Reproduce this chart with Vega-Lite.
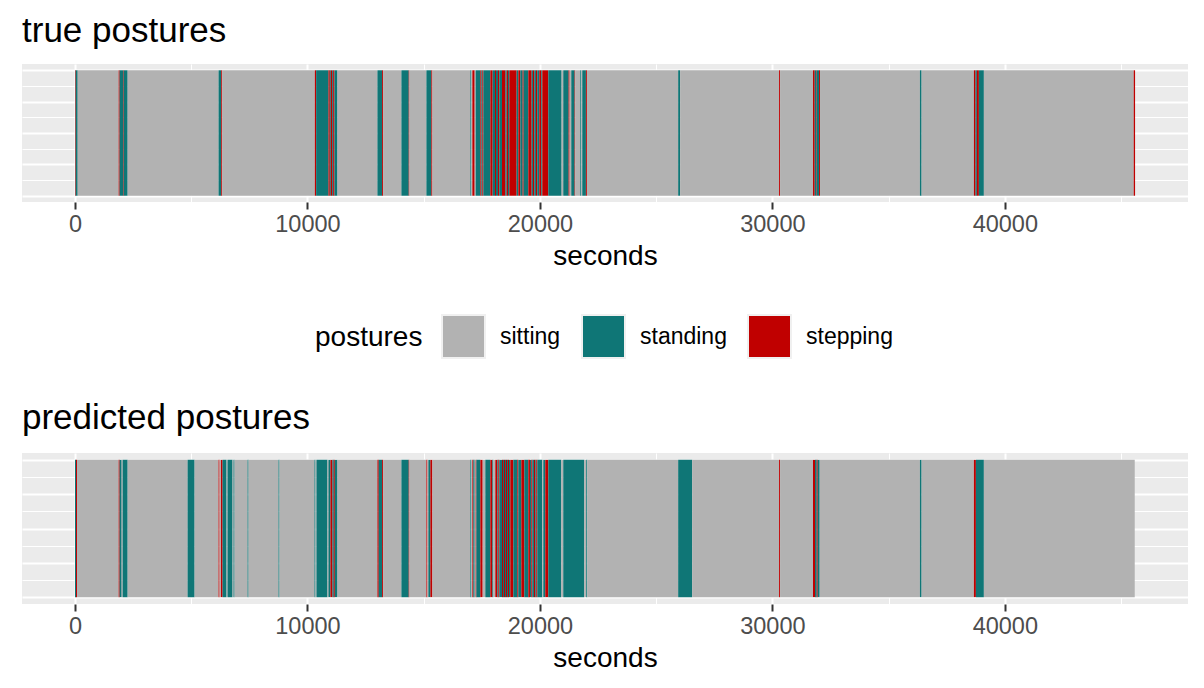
{
  "$schema": "https://vega.github.io/schema/vega-lite/v6.json",
  "padding": {"left": 22, "top": 14, "right": 16, "bottom": 10},
  "background": "white",
  "config": {
    "font": "Liberation Sans",
    "view": {"fill": "#EBEBEB", "stroke": null},
    "concat": {"spacing": 130},
    "title": {"anchor": "start", "fontSize": 35, "fontWeight": "normal", "color": "black", "baseline": "alphabetic"},
    "legend": {
      "padding": 0,
      "titleFontSize": 28, "titleFontWeight": "normal", "titleColor": "black", "titleOrient": "left", "titlePadding": 18,
      "labelFontSize": 23, "labelColor": "black", "labelOffset": 14, "columnPadding": 17,
      "symbolType": "M-1,-1H1V1H-1Z", "symbolSize": 1849, "symbolStrokeColor": "#F0F0F0", "symbolStrokeWidth": 2
    }
  },
  "datasets": {
    "truth": [
      {"start":0,"end":30,"posture":"stepping"},{"start":30,"end":116,"posture":"standing"},{"start":116,"end":1878,"posture":"sitting"},{"start":1878,"end":1921,"posture":"stepping"},{"start":1921,"end":2064,"posture":"standing"},{"start":2064,"end":2093,"posture":"stepping"},{"start":2093,"end":2265,"posture":"standing"},{"start":2265,"end":6176,"posture":"sitting"},{"start":6176,"end":6291,"posture":"standing"},{"start":6291,"end":6334,"posture":"stepping"},{"start":6334,"end":10317,"posture":"sitting"},{"start":10317,"end":10374,"posture":"stepping"},{"start":10374,"end":10904,"posture":"standing"},{"start":10904,"end":10961,"posture":"stepping"},{"start":10961,"end":11004,"posture":"standing"},{"start":11004,"end":11062,"posture":"stepping"},{"start":11062,"end":11105,"posture":"standing"},{"start":11105,"end":11162,"posture":"stepping"},{"start":11162,"end":11291,"posture":"standing"},{"start":11291,"end":13010,"posture":"sitting"},{"start":13010,"end":13211,"posture":"standing"},{"start":13211,"end":13254,"posture":"stepping"},{"start":13254,"end":14042,"posture":"sitting"},{"start":14042,"end":14357,"posture":"standing"},{"start":14357,"end":14386,"posture":"stepping"},{"start":14386,"end":15117,"posture":"sitting"},{"start":15117,"end":15330,"posture":"standing"},{"start":15330,"end":15374,"posture":"stepping"},{"start":15374,"end":17008,"posture":"sitting"},{"start":17008,"end":17051,"posture":"standing"},{"start":17051,"end":17094,"posture":"sitting"},{"start":17094,"end":17194,"posture":"stepping"},{"start":17194,"end":17237,"posture":"sitting"},{"start":17237,"end":17437,"posture":"standing"},{"start":17437,"end":17480,"posture":"stepping"},{"start":17480,"end":17523,"posture":"standing"},{"start":17523,"end":17566,"posture":"stepping"},{"start":17566,"end":17867,"posture":"standing"},{"start":17867,"end":17968,"posture":"stepping"},{"start":17968,"end":18068,"posture":"standing"},{"start":18068,"end":18111,"posture":"stepping"},{"start":18111,"end":18197,"posture":"standing"},{"start":18197,"end":18254,"posture":"stepping"},{"start":18254,"end":18369,"posture":"standing"},{"start":18369,"end":18512,"posture":"stepping"},{"start":18512,"end":18569,"posture":"standing"},{"start":18569,"end":18627,"posture":"stepping"},{"start":18627,"end":18684,"posture":"standing"},{"start":18684,"end":18999,"posture":"stepping"},{"start":18999,"end":19071,"posture":"standing"},{"start":19071,"end":19157,"posture":"stepping"},{"start":19157,"end":19257,"posture":"standing"},{"start":19257,"end":19300,"posture":"stepping"},{"start":19300,"end":19501,"posture":"standing"},{"start":19501,"end":19644,"posture":"stepping"},{"start":19644,"end":19701,"posture":"standing"},{"start":19701,"end":19758,"posture":"stepping"},{"start":19758,"end":19830,"posture":"standing"},{"start":19830,"end":19887,"posture":"stepping"},{"start":19887,"end":19973,"posture":"standing"},{"start":19973,"end":20059,"posture":"stepping"},{"start":20059,"end":20102,"posture":"standing"},{"start":20102,"end":20360,"posture":"stepping"},{"start":20360,"end":20933,"posture":"standing"},{"start":20933,"end":21005,"posture":"sitting"},{"start":21005,"end":21234,"posture":"standing"},{"start":21234,"end":21277,"posture":"stepping"},{"start":21277,"end":21349,"posture":"sitting"},{"start":21349,"end":21492,"posture":"standing"},{"start":21492,"end":21521,"posture":"stepping"},{"start":21521,"end":21736,"posture":"sitting"},{"start":21736,"end":21779,"posture":"standing"},{"start":21779,"end":21822,"posture":"sitting"},{"start":21822,"end":21979,"posture":"standing"},{"start":21979,"end":22022,"posture":"stepping"},{"start":22022,"end":25948,"posture":"sitting"},{"start":25948,"end":26034,"posture":"standing"},{"start":26034,"end":30289,"posture":"sitting"},{"start":30289,"end":30332,"posture":"stepping"},{"start":30332,"end":31749,"posture":"sitting"},{"start":31749,"end":31821,"posture":"stepping"},{"start":31821,"end":31878,"posture":"standing"},{"start":31878,"end":31907,"posture":"stepping"},{"start":31907,"end":32008,"posture":"standing"},{"start":32008,"end":32050,"posture":"stepping"},{"start":32050,"end":36348,"posture":"sitting"},{"start":36348,"end":36420,"posture":"standing"},{"start":36420,"end":38669,"posture":"sitting"},{"start":38669,"end":38741,"posture":"stepping"},{"start":38741,"end":38798,"posture":"standing"},{"start":38798,"end":38884,"posture":"stepping"},{"start":38884,"end":39099,"posture":"standing"},{"start":39099,"end":45546,"posture":"sitting"},{"start":45546,"end":45603,"posture":"stepping"}
    ],
    "pred": [
      {"start":0,"end":44,"posture":"standing"},{"start":44,"end":87,"posture":"stepping"},{"start":87,"end":1878,"posture":"sitting"},{"start":1878,"end":1921,"posture":"stepping"},{"start":1921,"end":2007,"posture":"standing"},{"start":2007,"end":2050,"posture":"sitting"},{"start":2050,"end":2265,"posture":"standing"},{"start":2265,"end":4844,"posture":"sitting"},{"start":4844,"end":5145,"posture":"standing"},{"start":5145,"end":6176,"posture":"sitting"},{"start":6176,"end":6219,"posture":"stepping"},{"start":6219,"end":6277,"posture":"sitting"},{"start":6277,"end":6348,"posture":"stepping"},{"start":6348,"end":6520,"posture":"standing"},{"start":6520,"end":6563,"posture":"sitting"},{"start":6563,"end":6778,"posture":"standing"},{"start":6778,"end":6821,"posture":"sitting"},{"start":6821,"end":6864,"posture":"standing"},{"start":6864,"end":7423,"posture":"sitting"},{"start":7423,"end":7466,"posture":"standing"},{"start":7466,"end":8755,"posture":"sitting"},{"start":8755,"end":8798,"posture":"standing"},{"start":8798,"end":10302,"posture":"sitting"},{"start":10302,"end":10345,"posture":"standing"},{"start":10345,"end":10388,"posture":"sitting"},{"start":10388,"end":10861,"posture":"standing"},{"start":10861,"end":10904,"posture":"sitting"},{"start":10904,"end":10990,"posture":"standing"},{"start":10990,"end":11076,"posture":"stepping"},{"start":11076,"end":11134,"posture":"standing"},{"start":11134,"end":11177,"posture":"stepping"},{"start":11177,"end":11291,"posture":"standing"},{"start":11291,"end":13010,"posture":"sitting"},{"start":13010,"end":13067,"posture":"stepping"},{"start":13067,"end":13211,"posture":"standing"},{"start":13211,"end":13254,"posture":"stepping"},{"start":13254,"end":14042,"posture":"sitting"},{"start":14042,"end":14357,"posture":"standing"},{"start":14357,"end":14386,"posture":"stepping"},{"start":14386,"end":15117,"posture":"sitting"},{"start":15117,"end":15160,"posture":"stepping"},{"start":15160,"end":15202,"posture":"sitting"},{"start":15202,"end":15288,"posture":"standing"},{"start":15288,"end":15374,"posture":"stepping"},{"start":15374,"end":17008,"posture":"sitting"},{"start":17008,"end":17051,"posture":"standing"},{"start":17051,"end":17094,"posture":"sitting"},{"start":17094,"end":17137,"posture":"stepping"},{"start":17137,"end":17194,"posture":"standing"},{"start":17194,"end":17237,"posture":"sitting"},{"start":17237,"end":17266,"posture":"stepping"},{"start":17266,"end":17437,"posture":"standing"},{"start":17437,"end":17538,"posture":"stepping"},{"start":17538,"end":17652,"posture":"sitting"},{"start":17652,"end":17867,"posture":"standing"},{"start":17867,"end":17953,"posture":"stepping"},{"start":17953,"end":17996,"posture":"standing"},{"start":17996,"end":18082,"posture":"sitting"},{"start":18082,"end":18168,"posture":"stepping"},{"start":18168,"end":18211,"posture":"standing"},{"start":18211,"end":18254,"posture":"stepping"},{"start":18254,"end":18369,"posture":"standing"},{"start":18369,"end":18412,"posture":"stepping"},{"start":18412,"end":18455,"posture":"standing"},{"start":18455,"end":18498,"posture":"stepping"},{"start":18498,"end":18541,"posture":"standing"},{"start":18541,"end":18584,"posture":"stepping"},{"start":18584,"end":18627,"posture":"standing"},{"start":18627,"end":18670,"posture":"stepping"},{"start":18670,"end":18727,"posture":"standing"},{"start":18727,"end":18856,"posture":"stepping"},{"start":18856,"end":19028,"posture":"standing"},{"start":19028,"end":19071,"posture":"stepping"},{"start":19071,"end":19200,"posture":"standing"},{"start":19200,"end":19329,"posture":"stepping"},{"start":19329,"end":19501,"posture":"standing"},{"start":19501,"end":19572,"posture":"stepping"},{"start":19572,"end":19630,"posture":"standing"},{"start":19630,"end":19673,"posture":"stepping"},{"start":19673,"end":19744,"posture":"standing"},{"start":19744,"end":19801,"posture":"stepping"},{"start":19801,"end":19844,"posture":"standing"},{"start":19844,"end":19887,"posture":"stepping"},{"start":19887,"end":20102,"posture":"standing"},{"start":20102,"end":20145,"posture":"sitting"},{"start":20145,"end":20231,"posture":"standing"},{"start":20231,"end":20360,"posture":"stepping"},{"start":20360,"end":20919,"posture":"standing"},{"start":20919,"end":21005,"posture":"sitting"},{"start":21005,"end":21907,"posture":"standing"},{"start":21907,"end":21993,"posture":"sitting"},{"start":21993,"end":22036,"posture":"standing"},{"start":22036,"end":25948,"posture":"sitting"},{"start":25948,"end":26550,"posture":"standing"},{"start":26550,"end":30289,"posture":"sitting"},{"start":30289,"end":30332,"posture":"stepping"},{"start":30332,"end":31749,"posture":"sitting"},{"start":31749,"end":31835,"posture":"stepping"},{"start":31835,"end":31907,"posture":"standing"},{"start":31907,"end":31950,"posture":"stepping"},{"start":31950,"end":32036,"posture":"standing"},{"start":32036,"end":36348,"posture":"sitting"},{"start":36348,"end":36420,"posture":"standing"},{"start":36420,"end":38669,"posture":"sitting"},{"start":38669,"end":38755,"posture":"stepping"},{"start":38755,"end":39099,"posture":"standing"},{"start":39099,"end":45589,"posture":"sitting"}
    ]
  },
  "resolve": {"scale": {"color": "shared"}, "legend": {"color": "shared"}},
  "vconcat": [
    {
      "title": {"text": "true postures", "offset": 15},
      "width": 1166,
      "height": 138,
      "data": {"name": "truth"},
      "mark": {"type": "rect"},
      "encoding": {
        "x": {"field": "start", "type": "quantitative",
          "scale": {"domain": [-2280, 47880], "nice": false, "zero": false},
          "axis": {"title": "seconds", "values": [0,5000,10000,15000,20000,25000,30000,35000,40000,45000],
            "labelExpr": "datum.value % 10000 === 0 ? '' + datum.value : ''",
            "labelOverlap": false, "labelFlush": false, "labelFontSize": 23.5, "labelColor": "#4D4D4D", "labelPadding": 3,
            "tickSize": 7, "tickWidth": 2, "tickColor": "#333333",
            "tickOpacity": {"condition": {"test": "datum.value % 10000 === 0", "value": 1}, "value": 0},
            "domain": false, "grid": true, "gridColor": "white",
            "gridWidth": {"condition": {"test": "datum.value % 10000 === 0", "value": 2}, "value": 1},
            "titleFontSize": 28, "titleFontWeight": "normal", "titleColor": "black", "titlePadding": 7}},
        "x2": {"field": "end"},
        "y": {"datum": 0, "type": "quantitative",
          "scale": {"domain": [-0.05, 1.05], "nice": false, "zero": false},
          "axis": {"title": null, "labels": false, "ticks": false, "domain": false, "minExtent": 0, "maxExtent": 0,
            "values": [0,0.125,0.25,0.375,0.5,0.625,0.75,0.875,1], "grid": true, "gridColor": "white",
            "gridWidth": {"condition": {"test": "datum.value % 0.25 === 0", "value": 2}, "value": 1}}},
        "y2": {"datum": 1},
        "color": {"field": "posture", "type": "nominal",
          "scale": {"domain": ["sitting", "standing", "stepping"], "range": ["#B2B2B2", "#0F7676", "#C00000"]},
          "legend": {"title": "postures", "orient": "none", "direction": "horizontal", "legendX": 293, "legendY": 250}}
      }
    },
    {
      "title": {"text": "predicted postures", "offset": 17},
      "width": 1166,
      "height": 151,
      "data": {"name": "pred"},
      "mark": {"type": "rect"},
      "encoding": {
        "x": {"field": "start", "type": "quantitative",
          "scale": {"domain": [-2280, 47880], "nice": false, "zero": false},
          "axis": {"title": "seconds", "values": [0,5000,10000,15000,20000,25000,30000,35000,40000,45000],
            "labelExpr": "datum.value % 10000 === 0 ? '' + datum.value : ''",
            "labelOverlap": false, "labelFlush": false, "labelFontSize": 23.5, "labelColor": "#4D4D4D", "labelPadding": 3,
            "tickSize": 7, "tickWidth": 2, "tickColor": "#333333",
            "tickOpacity": {"condition": {"test": "datum.value % 10000 === 0", "value": 1}, "value": 0},
            "domain": false, "grid": true, "gridColor": "white",
            "gridWidth": {"condition": {"test": "datum.value % 10000 === 0", "value": 2}, "value": 1},
            "titleFontSize": 28, "titleFontWeight": "normal", "titleColor": "black", "titlePadding": 7}},
        "x2": {"field": "end"},
        "y": {"datum": 0, "type": "quantitative",
          "scale": {"domain": [-0.05, 1.05], "nice": false, "zero": false},
          "axis": {"title": null, "labels": false, "ticks": false, "domain": false, "minExtent": 0, "maxExtent": 0,
            "values": [0,0.125,0.25,0.375,0.5,0.625,0.75,0.875,1], "grid": true, "gridColor": "white",
            "gridWidth": {"condition": {"test": "datum.value % 0.25 === 0", "value": 2}, "value": 1}}},
        "y2": {"datum": 1},
        "color": {"field": "posture", "type": "nominal",
          "scale": {"domain": ["sitting", "standing", "stepping"], "range": ["#B2B2B2", "#0F7676", "#C00000"]},
          "legend": {"title": "postures", "orient": "none", "direction": "horizontal", "legendX": 293, "legendY": 250}}
      }
    }
  ]
}
